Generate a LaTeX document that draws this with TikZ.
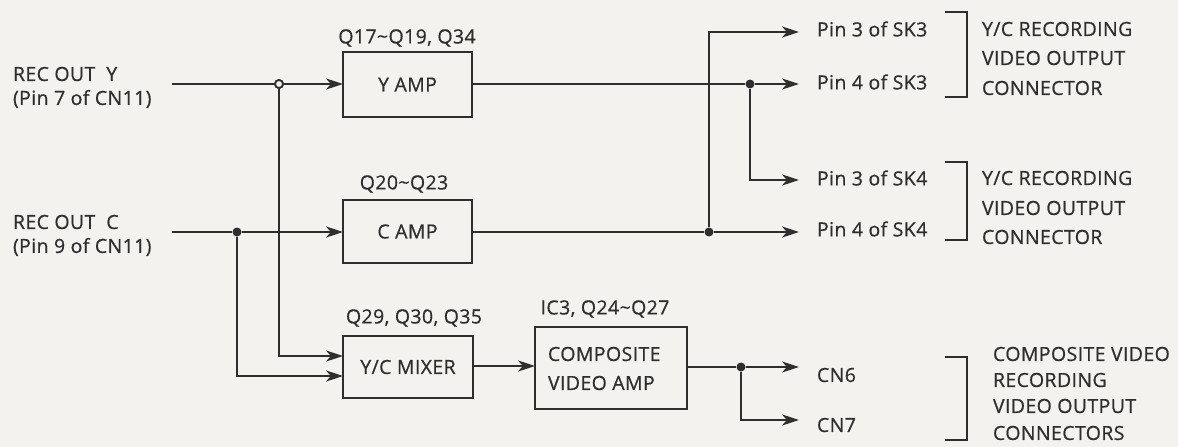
\documentclass[tikz,border=0pt]{standalone}
\usepackage{fontspec}
\setmainfont{Open Sans}[LetterSpace=2, FakeBold=0.6]
\usetikzlibrary{arrows.meta}
\definecolor{ink}{HTML}{2E2E2E}
\definecolor{paper}{HTML}{F4F2EF}
\tikzset{
  lbl/.style={font=\fontsize{19.5}{22}\selectfont, text=ink, inner sep=0pt, outer sep=0pt},
  blk/.style={draw=ink, line width=2.2pt, inner sep=0pt, outer sep=0pt, font=\fontsize{19.5}{22}\selectfont, text=ink},
  wire/.style={draw=ink, line width=2.2pt},
  conn/.style={wire, -{Stealth[length=17pt,width=11pt,inset=5pt]}},
  jdot/.style={circle, fill=ink, inner sep=0pt, minimum size=9pt},
  jring/.style={circle, draw=ink, fill=paper, line width=1.8pt, inner sep=0pt, minimum size=8pt},
  brk/.style={draw=ink, line width=2.2pt}
}
\begin{document}
\begin{tikzpicture}[x=1pt,y=-1pt]
\fill[paper] (0,0) rectangle (1178,447);
\useasboundingbox (0,0) rectangle (1178,447);

% input labels
\node[lbl, anchor=west] (yin1) at (13,74) {REC OUT~~Y};
\node[lbl, anchor=west] (yin2) at (13,99) {(Pin 7 of CN11)};
\node[lbl, anchor=west] (cin1) at (13,222) {REC OUT~~C};
\node[lbl, anchor=west] (cin2) at (13,247) {(Pin 9 of CN11)};
\coordinate (ys) at (172,84);
\coordinate (cs) at (172,232);

% blocks
\node[blk, minimum width=129pt, minimum height=65pt] (yamp) at (407.5,84.5) {Y AMP};
\node[blk, minimum width=129pt, minimum height=63pt] (camp) at (407.5,231.5) {C AMP};
\node[blk, minimum width=130pt, minimum height=62pt] (mix) at (408,367) {Y/C MIXER};
\node[blk, minimum width=152pt, minimum height=82pt] (comp) at (611,368) {};
\node[lbl, anchor=west] (comp1) at (548,354) {COMPOSITE};
\node[lbl, anchor=west] (comp2) at (548,383) {VIDEO AMP};

% block captions
\node[lbl] (qy) at (407,38) {Q17\textasciitilde Q19, Q34};
\node[lbl] (qc) at (404,184) {Q20\textasciitilde Q23};
\node[lbl] (qm) at (414,318) {Q29, Q30, Q35};
\node[lbl] (qv) at (605,309) {IC3, Q24\textasciitilde Q27};

% junctions
\node[jring] (jy) at (279,84) {};
\node[jdot] (jc) at (237,232) {};
\node[jdot] (jc2) at (709,232) {};
\node[jdot] (jy2) at (750,84) {};
\node[jdot] (jv) at (741,367) {};

% arrow ends
\coordinate (e1) at (799,32);
\coordinate (e2) at (799,84);
\coordinate (e3) at (799,180);
\coordinate (e4) at (799,232);
\coordinate (e5) at (799,367);
\coordinate (e6) at (799,420);

% output labels
\node[lbl, anchor=west] (p1) at (817,29) {Pin 3 of SK3};
\node[lbl, anchor=west] (p2) at (817,82) {Pin 4 of SK3};
\node[lbl, anchor=west] (p3) at (817,178) {Pin 3 of SK4};
\node[lbl, anchor=west] (p4) at (817,229) {Pin 4 of SK4};
\node[lbl, anchor=west] (p5) at (817,375) {CN6};
\node[lbl, anchor=west] (p6) at (817,425) {CN7};

% wiring
\draw[wire] (ys) -- (jy);
\draw[conn] (jy) -- (yamp.west |- jy);
\draw[conn] (jy) -- (279,356) -- (mix.west |- 0,356);
\draw[wire] (cs) -- (jc);
\draw[conn] (jc) -- (camp.west |- jc);
\draw[conn] (jc) -- (237,376) -- (mix.west |- 0,376);
\draw[wire] (yamp.east |- jy2) -- (jy2);
\draw[conn] (jy2) -- (e2);
\draw[conn] (jy2) -- (jy2 |- e3) -- (e3);
\draw[wire] (camp.east |- jc2) -- (jc2);
\draw[conn] (jc2) -- (e4);
\draw[conn] (jc2) -- (jc2 |- e1) -- (e1);
\draw[conn] (mix.east |- 0,366) -- (comp.west |- 0,366);
\draw[wire] (comp.east |- jv) -- (jv);
\draw[conn] (jv) -- (e5);
\draw[conn] (jv) -- (jv |- e6) -- (e6);
% redraw junction markers on top
\node[jring] at (279,84) {};

% brackets
\draw[brk] (945,12) -- (967,12) -- (967,97) -- (945,97);
\draw[brk] (945,162) -- (967,162) -- (967,240) -- (945,240);
\draw[brk] (945,357) -- (967,357) -- (967,440) -- (945,440);

% bracket captions
\node[lbl, anchor=west] (b11) at (982,29) {Y/C RECORDING};
\node[lbl, anchor=west] (b12) at (982,58) {VIDEO OUTPUT};
\node[lbl, anchor=west] (b13) at (982,88) {CONNECTOR};
\node[lbl, anchor=west] (b21) at (982,178) {Y/C RECORDING};
\node[lbl, anchor=west] (b22) at (982,208) {VIDEO OUTPUT};
\node[lbl, anchor=west] (b23) at (982,237) {CONNECTOR};
\node[lbl, anchor=west] (b31) at (993,354) {COMPOSITE VIDEO};
\node[lbl, anchor=west] (b32) at (993,380) {RECORDING};
\node[lbl, anchor=west] (b33) at (993,406) {VIDEO OUTPUT};
\node[lbl, anchor=west] (b34) at (993,433) {CONNECTORS};
\end{tikzpicture}
\end{document}
